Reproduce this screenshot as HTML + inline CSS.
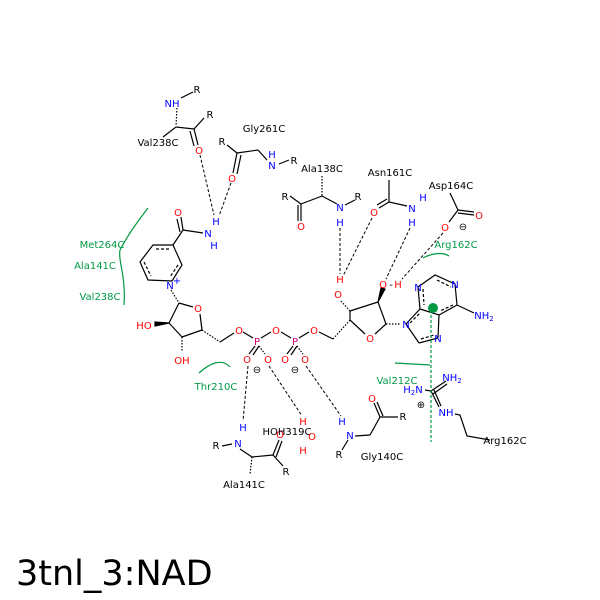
<!DOCTYPE html>
<html><head><meta charset="utf-8"><style>
body{margin:0;background:#fff}
svg{display:block}
text{font-family:"DejaVu Sans","Liberation Sans",sans-serif;font-size:10px}
.b{fill:#0000ff}.r{fill:#ff0000}.p{fill:#cc0077}.g{fill:#009944}.k{fill:#000}
</style></head><body>
<svg width="600" height="600" viewBox="0 0 600 600" xmlns="http://www.w3.org/2000/svg">
<g stroke="#000" stroke-width="1.2" fill="none">
<!-- Val238C -->
<line x1="177" y1="108" x2="176" y2="126" stroke-dasharray="1.5,1.5"/>
<line x1="176" y1="127" x2="163" y2="137"/>
<line x1="176" y1="127" x2="194" y2="129"/>
<line x1="194" y1="129" x2="204" y2="118"/>
<line x1="194" y1="129" x2="198" y2="145"/><line x1="190" y1="131" x2="194" y2="146"/>
<line x1="181" y1="98" x2="193" y2="92"/>
<!-- Gly261C -->
<line x1="227" y1="145" x2="237" y2="153"/>
<line x1="237" y1="153" x2="233" y2="173"/><line x1="241" y1="155" x2="237" y2="174"/>
<line x1="237" y1="153" x2="258" y2="150"/>
<line x1="258" y1="150" x2="267" y2="160"/>
<line x1="279" y1="164" x2="289" y2="160"/>
<!-- Ala138C -->
<line x1="322" y1="176" x2="322" y2="196" stroke-dasharray="1.5,1.5"/>
<line x1="322" y1="196" x2="301" y2="204"/>
<line x1="301" y1="204" x2="290" y2="196"/>
<line x1="301" y1="204" x2="301" y2="221"/><line x1="298" y1="205" x2="298" y2="221"/>
<line x1="322" y1="196" x2="337" y2="204"/>
<line x1="345" y1="205" x2="355" y2="200"/>
<!-- Asn161C -->
<line x1="389" y1="180" x2="389" y2="202"/>
<line x1="389" y1="202" x2="379" y2="208"/><line x1="387" y1="199" x2="377" y2="205"/>
<line x1="389" y1="202" x2="407" y2="206"/>
<!-- Asp164C -->
<line x1="450" y1="193" x2="458" y2="210"/>
<line x1="458" y1="210" x2="474" y2="212"/><line x1="458" y1="213" x2="474" y2="215"/>
<line x1="458" y1="210" x2="449" y2="222"/>
<!-- nicotinamide -->
<line x1="183" y1="230" x2="181" y2="217"/><line x1="180" y1="232" x2="177" y2="219"/>
<line x1="183" y1="230" x2="203" y2="233"/>
<line x1="183" y1="230" x2="173" y2="245"/>
<polygon points="153,245 173,245 182,265 172,281 148,280 140,262"/>
<line x1="156" y1="249" x2="170" y2="249" stroke-dasharray="3,2"/>
<line x1="178" y1="265" x2="170" y2="277" stroke-dasharray="3,2"/>
<line x1="144" y1="262" x2="151" y2="276" stroke-dasharray="3,2"/>
<!-- ribose 1 -->
<line x1="171" y1="290" x2="179" y2="303" stroke-dasharray="1.5,1.5"/>
<line x1="179" y1="303" x2="193" y2="307"/>
<line x1="200" y1="314" x2="202" y2="330"/>
<line x1="202" y1="330" x2="182" y2="337"/>
<line x1="182" y1="337" x2="169" y2="323"/>
<line x1="169" y1="323" x2="179" y2="303"/>
<polygon points="169,323 155,322 155,326" fill="#000"/>
<line x1="182" y1="337" x2="182" y2="352" stroke-dasharray="1.5,1.5"/>
<line x1="202" y1="330" x2="220" y2="342" stroke-dasharray="1.5,1.5"/>
<line x1="220" y1="342" x2="234" y2="333"/>
<line x1="243" y1="332" x2="253" y2="338"/>
<line x1="261" y1="338" x2="271" y2="332"/>
<line x1="281" y1="332" x2="291" y2="338"/>
<line x1="299" y1="338" x2="309" y2="332"/>
<line x1="319" y1="332" x2="333" y2="339"/>
<line x1="255" y1="346" x2="249" y2="354"/><line x1="259" y1="346" x2="253" y2="355"/>
<line x1="259" y1="346" x2="265" y2="354" stroke-dasharray="1.5,1.5"/>
<line x1="293" y1="346" x2="287" y2="354"/><line x1="297" y1="346" x2="291" y2="355"/>
<line x1="297" y1="346" x2="303" y2="354" stroke-dasharray="1.5,1.5"/>
<!-- ribose 2 -->
<line x1="333" y1="339" x2="350" y2="320" stroke-dasharray="1.5,1.5"/>
<line x1="350" y1="320" x2="365" y2="334"/>
<line x1="375" y1="334" x2="386" y2="324"/>
<line x1="386" y1="324" x2="378" y2="302"/>
<line x1="378" y1="302" x2="350" y2="311"/>
<line x1="350" y1="311" x2="350" y2="320"/>
<line x1="350" y1="311" x2="340" y2="300" stroke-dasharray="1.5,1.5"/>
<polygon points="378,302 381,288 385,289" fill="#000"/>
<line x1="386" y1="324" x2="401" y2="324" stroke-dasharray="1.5,1.5"/>
<!-- adenine -->
<polygon points="418,287 435,275 455,284 457,305 439,315 420,309"/>
<line x1="420" y1="309" x2="406" y2="324"/>
<line x1="406" y1="324" x2="419" y2="343"/>
<line x1="419" y1="343" x2="438" y2="338"/>
<line x1="438" y1="338" x2="439" y2="315"/>
<line x1="457" y1="305" x2="474" y2="313"/>
<g stroke-dasharray="3,2">
<line x1="423" y1="289" x2="424" y2="305"/>
<line x1="437" y1="280" x2="451" y2="287"/>
<line x1="453" y1="305" x2="440" y2="311"/>
<line x1="421" y1="339" x2="434" y2="335"/>
<line x1="410" y1="323" x2="420" y2="313"/>
</g>
<!-- guanidinium -->
<line x1="431" y1="391" x2="446" y2="381"/><line x1="433" y1="394" x2="447" y2="384"/>
<line x1="431" y1="391" x2="425" y2="390"/>
<line x1="431" y1="391" x2="439" y2="407"/><line x1="434" y1="390" x2="441" y2="406"/>
<polyline points="455,414 460,415 467,436 490,440"/>
<!-- Ala141C bottom -->
<line x1="222" y1="446" x2="232" y2="444"/>
<line x1="240" y1="449" x2="252" y2="457"/>
<line x1="252" y1="457" x2="250" y2="474" stroke-dasharray="1.5,1.5"/>
<line x1="252" y1="457" x2="273" y2="455"/>
<line x1="273" y1="455" x2="279" y2="440"/><line x1="276" y1="457" x2="282" y2="441"/>
<line x1="273" y1="455" x2="283" y2="466"/>
<!-- Gly140C -->
<line x1="348" y1="440" x2="342" y2="450"/>
<line x1="355" y1="436" x2="370" y2="435"/>
<line x1="370" y1="435" x2="380" y2="417"/>
<line x1="380" y1="417" x2="374" y2="403"/><line x1="383" y1="416" x2="377" y2="402"/>
<line x1="380" y1="417" x2="398" y2="417"/>
</g>
<!-- hbonds -->
<g stroke="#000" stroke-width="1" stroke-dasharray="3,2" fill="none">
<line x1="200" y1="155" x2="214" y2="215"/>
<line x1="231" y1="183" x2="219" y2="216"/>
<line x1="340" y1="228" x2="340" y2="274"/>
<line x1="372" y1="218" x2="343" y2="276"/>
<line x1="410" y1="228" x2="386" y2="279"/>
<line x1="443" y1="233" x2="402" y2="279"/>
<line x1="248" y1="366" x2="243" y2="421"/>
<line x1="269" y1="366" x2="302" y2="416"/>
<line x1="306" y1="366" x2="341" y2="416"/>
</g>
<g stroke="#009944" stroke-width="1.2" fill="none">
<path d="M148,208 C135,225 128,235 120,250 C118,262 126,275 124,305"/>
<path d="M423,258 C432,253 443,252 449,256"/>
<path d="M199,373 C210,363 222,358 230,367"/>
<line x1="395" y1="363" x2="430" y2="365"/>
<line x1="431" y1="310" x2="431" y2="442" stroke-dasharray="3,2"/>
</g>
<circle cx="433" cy="308" r="5" fill="#009944"/>
<g text-anchor="middle">
<text x="197" y="93" class="k">R</text>
<text x="172" y="107" class="b">NH</text>
<text x="210" y="118" class="k">R</text>
<text x="158" y="146" class="k">Val238C</text>
<text x="199" y="154" class="r">O</text>
<text x="264" y="132" class="k">Gly261C</text>
<text x="222" y="145" class="k">R</text>
<text x="232" y="182" class="r">O</text>
<text x="272" y="158" class="b">H</text>
<text x="272" y="169" class="b">N</text>
<text x="294" y="164" class="k">R</text>
<text x="322" y="172" class="k">Ala138C</text>
<text x="285" y="200" class="k">R</text>
<text x="301" y="230" class="r">O</text>
<text x="340" y="211" class="b">N</text>
<text x="340" y="226" class="b">H</text>
<text x="358" y="200" class="k">R</text>
<text x="390" y="176" class="k">Asn161C</text>
<text x="374" y="216" class="r">O</text>
<text x="412" y="212" class="b">N</text>
<text x="423" y="201" class="b">H</text>
<text x="412" y="226" class="b">H</text>
<text x="451" y="189" class="k">Asp164C</text>
<text x="479" y="219" class="r">O</text>
<text x="445" y="231" class="r">O</text>
<text x="463" y="230" class="k">⊖</text>
<text x="456" y="248" class="g">Arg162C</text>
<text x="178" y="216" class="r">O</text>
<text x="208" y="237" class="b">N</text>
<text x="216" y="225" class="b">H</text>
<text x="214" y="249" class="b">H</text>
<text x="170" y="289" class="b">N</text><text x="177" y="284" class="b" font-size="8">+</text>
<text x="102" y="248" class="g">Met264C</text>
<text x="95" y="269" class="g">Ala141C</text>
<text x="100" y="300" class="g">Val238C</text>
<text x="198" y="312" class="r">O</text>
<text x="144" y="329" class="r">HO</text>
<text x="182" y="364" class="r">OH</text>
<text x="239" y="334" class="r">O</text>
<text x="257" y="345" class="p">P</text>
<text x="276" y="334" class="r">O</text>
<text x="295" y="345" class="p">P</text>
<text x="314" y="334" class="r">O</text>
<text x="247" y="363" class="r">O</text>
<text x="268" y="363" class="r">O</text>
<text x="257" y="373" class="k">⊖</text>
<text x="285" y="363" class="r">O</text>
<text x="305" y="363" class="r">O</text>
<text x="295" y="373" class="k">⊖</text>
<text x="370" y="342" class="r">O</text>
<text x="338" y="298" class="r">O</text>
<text x="340" y="283" class="r">H</text>
<text x="383" y="288" class="r">O</text>
<text x="391" y="288" class="k">-</text>
<text x="398" y="288" class="r">H</text>
<text x="406" y="328" class="b">N</text>
<text x="418" y="291" class="b">N</text>
<text x="455" y="288" class="b">N</text>
<text x="438" y="342" class="b">N</text>
<text x="484" y="319" class="b">NH<tspan font-size="7" dy="2">2</tspan></text>
<text x="397" y="384" class="g">Val212C</text>
<text x="452" y="381" class="b">NH<tspan font-size="7" dy="2">2</tspan></text>
<text x="413" y="393" class="b">H<tspan font-size="7" dy="2">2</tspan><tspan dy="-2">N</tspan></text>
<text x="421" y="408" class="k">⊕</text>
<text x="446" y="416" class="b">NH</text>
<text x="505" y="444" class="k">Arg162C</text>
<text x="216" y="390" class="g">Thr210C</text>
<text x="243" y="431" class="b">H</text>
<text x="238" y="447" class="b">N</text>
<text x="216" y="449" class="k">R</text>
<text x="280" y="438" class="r">O</text>
<text x="286" y="475" class="k">R</text>
<text x="244" y="488" class="k">Ala141C</text>
<text x="287" y="435" class="k">HOH319C</text>
<text x="303" y="425" class="r">H</text>
<text x="312" y="440" class="r">O</text>
<text x="303" y="454" class="r">H</text>
<text x="342" y="425" class="b">H</text>
<text x="350" y="439" class="b">N</text>
<text x="339" y="458" class="k">R</text>
<text x="372" y="402" class="r">O</text>
<text x="403" y="420" class="k">R</text>
<text x="382" y="460" class="k">Gly140C</text>
</g>
<text x="16" y="585" style="font-size:35px" class="k">3tnl_3:NAD</text>
</svg>
</body></html>
